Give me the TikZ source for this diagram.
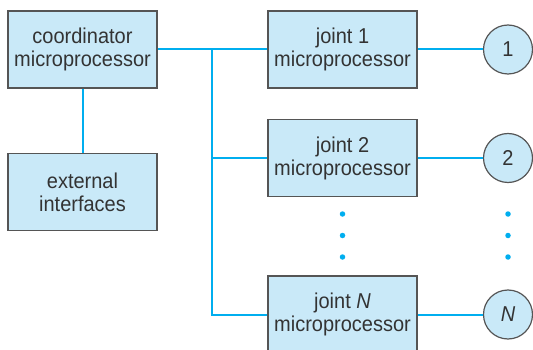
\documentclass[tikz,border=0pt]{standalone}
\usepackage{fontspec}
\setmainfont{Liberation Sans}[FakeStretch=0.93]
\definecolor{boxfill}{HTML}{C9E9F8}
\definecolor{bus}{HTML}{00AEEF}
\definecolor{edge}{HTML}{555555}
\definecolor{txt}{HTML}{333333}
\begin{document}
\begin{tikzpicture}[x=1pt,y=-1pt,
  procbox/.style={draw=edge,line width=1.2pt,fill=boxfill,minimum width=149pt,minimum height=77pt,
    inner sep=0pt,align=center,text=txt,font=\fontsize{21.5}{23}\selectfont},
  jointcirc/.style={circle,draw=edge,line width=1.2pt,fill=boxfill,minimum size=49pt,inner sep=0pt,
    text=txt,font=\fontsize{21.5}{23}\selectfont},
  wire/.style={draw=bus,line width=2pt},
  bdot/.style={circle,fill=bus,minimum size=5.5pt,inner sep=0pt}]
\clip (0,0) rectangle (533,350);
\node[procbox] (coord) at (82.5,49.5) {coordinator\\microprocessor};
\node[procbox] (ext) at (82.5,192) {external\\interfaces};
\node[procbox] (j1) at (342.5,49.5) {joint 1\\microprocessor};
\node[procbox] (j2) at (342.5,158) {joint 2\\microprocessor};
\node[procbox] (jn) at (342.5,314.5) {joint \textit{N}\\microprocessor};
\node[jointcirc] (c1) at (508,49.5) {1};
\node[jointcirc] (c2) at (508,158) {2};
\node[jointcirc] (cn) at (508,314.5) {\textit{N}};
\coordinate (btop) at (212,49.5);
\coordinate (bmid) at (212,158);
\coordinate (bbot) at (212,314.5);
\draw[wire] (coord.east) -- (j1.west);
\draw[wire] (coord.south) -- (ext.north);
\draw[wire] (btop) -- (bbot) -- (jn.west);
\draw[wire] (bmid) -- (j2.west);
\draw[wire] (j1.east) -- (c1.west);
\draw[wire] (j2.east) -- (c2.west);
\draw[wire] (jn.east) -- (cn.west);
\node[bdot] (d1) at (342.5,214) {};
\node[bdot] (d2) at (342.5,235.5) {};
\node[bdot] (d3) at (342.5,257) {};
\node[bdot] (e1) at (508,214) {};
\node[bdot] (e2) at (508,235.5) {};
\node[bdot] (e3) at (508,257) {};
\end{tikzpicture}
\end{document}
